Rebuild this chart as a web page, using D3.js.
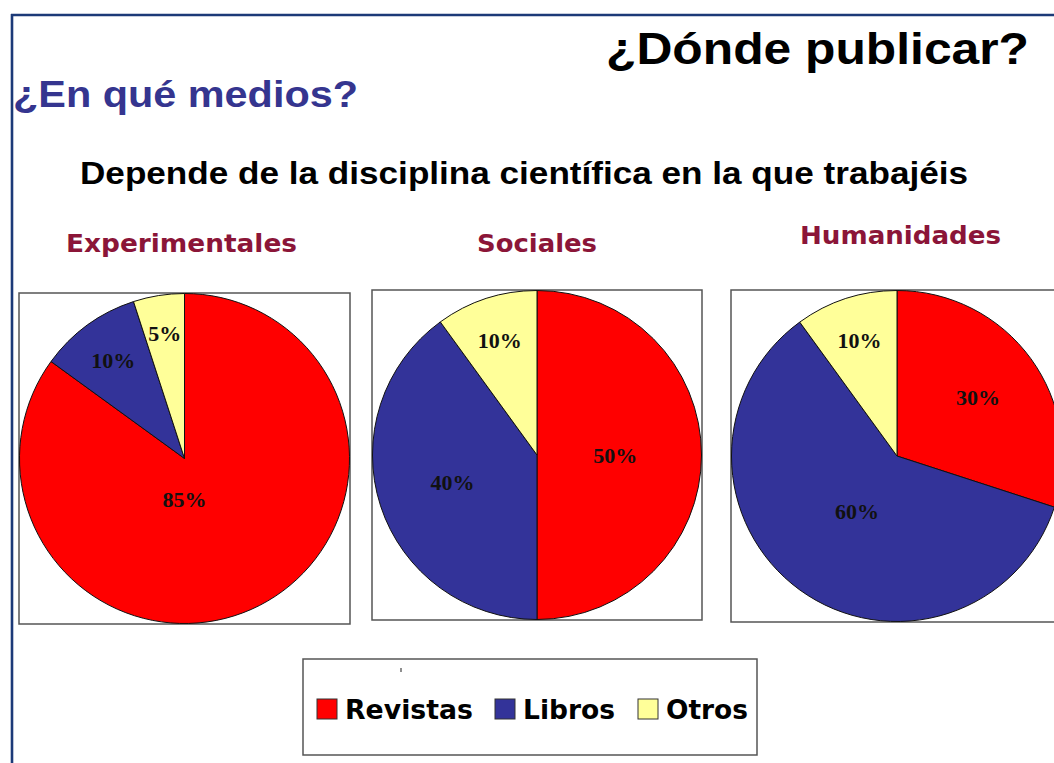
<!DOCTYPE html>
<html>
<head>
<meta charset="utf-8">
<script src="https://cdn.jsdelivr.net/npm/d3@7"></script>
<style>
  html, body { margin: 0; padding: 0; background: #fff; }
  svg { display: block; }
</style>
</head>
<body>
<svg id="chart" width="1054" height="763"></svg>
<script>
// ---- data ----
const title = "¿Dónde publicar?";
const subtitle = "¿En qué medios?";
const heading = "Depende de la disciplina científica en la que trabajéis";
const disciplines = ["Experimentales", "Sociales", "Humanidades"];
const categories = ["Revistas", "Libros", "Otros"];
const revistas = [85, 50, 30];
const libros = [10, 40, 60];
const otros = [5, 10, 10];
const colors = ["#ff0000", "#333399", "#ffff99"];

// ---- layout ----
const svg = d3.select("#chart");
const W = 1054, H = 763;

// frame
const frameColor = "#1c3a78";
svg.append("line").attr("x1", 11).attr("x2", W).attr("y1", 15).attr("y2", 15)
  .attr("stroke", frameColor).attr("stroke-width", 2.6);
svg.append("line").attr("x1", 12).attr("x2", 12).attr("y1", 14).attr("y2", H)
  .attr("stroke", frameColor).attr("stroke-width", 2.6);

// texts
svg.append("text").attr("x", 606).attr("y", 64)
  .attr("font-family", "Liberation Sans, Arial, sans-serif").attr("font-weight", "bold")
  .attr("font-size", 45).attr("fill", "#000")
  .attr("textLength", 423).attr("lengthAdjust", "spacingAndGlyphs")
  .text(title);

svg.append("text").attr("x", 13).attr("y", 107)
  .attr("font-family", "Liberation Sans, Arial, sans-serif").attr("font-weight", "bold")
  .attr("font-size", 37).attr("fill", "#35358f")
  .attr("textLength", 345).attr("lengthAdjust", "spacingAndGlyphs")
  .text(subtitle);

svg.append("text").attr("x", 80).attr("y", 184)
  .attr("font-family", "Liberation Sans, Arial, sans-serif").attr("font-weight", "bold")
  .attr("font-size", 31).attr("fill", "#000")
  .attr("textLength", 888).attr("lengthAdjust", "spacingAndGlyphs")
  .text(heading);

// panels
const panels = [
  { x0: 19, y0: 293, size: 331, titleX: 66, titleY: 252, titleW: 231 },
  { x0: 372, y0: 290, size: 330, titleX: 477, titleY: 252, titleW: 120 },
  { x0: 731, y0: 290, size: 332, titleX: 800, titleY: 244, titleW: 201 }
];

const pie = d3.pie().sort(null).value(d => d.value);

disciplines.forEach((name, i) => {
  const p = panels[i];
  const vals = [revistas[i], libros[i], otros[i]];
  const data = categories.map((c, k) => ({ cat: c, value: vals[k], color: colors[k] }));
  const R = p.size / 2 - 0.5;
  const cx = p.x0 + p.size / 2, cy = p.y0 + p.size / 2;

  svg.append("text").attr("x", p.titleX).attr("y", p.titleY)
    .attr("font-family", "DejaVu Sans, Verdana, sans-serif").attr("font-weight", "bold")
    .attr("font-size", 24).attr("fill", "#8b1538")
    .attr("textLength", p.titleW).attr("lengthAdjust", "spacingAndGlyphs")
    .text(name);

  svg.append("rect").attr("x", p.x0).attr("y", p.y0)
    .attr("width", p.size).attr("height", p.size)
    .attr("fill", "#fff").attr("stroke", "#555").attr("stroke-width", 1.5);

  const g = svg.append("g").attr("transform", `translate(${cx},${cy})`);
  const arc = d3.arc().innerRadius(0).outerRadius(R);
  const arcs = pie(data);
  g.selectAll("path").data(arcs).join("path")
    .attr("d", arc).attr("fill", d => d.data.color)
    .attr("stroke", "#111").attr("stroke-width", 1);

  const total = d3.sum(vals);
  g.selectAll("text.lbl").data(arcs).join("text").attr("class", "lbl")
    .attr("transform", d => {
      const share = d.data.value / total;
      const r = R * (0.8 - 0.65 * share);
      // large slices: pull label toward the bottom of the pie
      let a = (d.startAngle + d.endAngle) / 2;
      if (share > 0.75 && d.startAngle <= Math.PI && d.endAngle >= Math.PI) a = Math.PI;
      return `translate(${r * Math.sin(a)},${-r * Math.cos(a)})`;
    })
    .attr("text-anchor", "middle").attr("dy", "0.35em")
    .attr("font-family", "Liberation Serif, Times New Roman, serif").attr("font-weight", "bold")
    .attr("font-size", 22).attr("fill", "#111")
    .text(d => d.data.value + "%");
});

// legend
const lg = svg.append("g");
lg.append("rect").attr("x", 303).attr("y", 659).attr("width", 454).attr("height", 96)
  .attr("fill", "#fff").attr("stroke", "#555").attr("stroke-width", 1.5);
lg.append("line").attr("x1", 401).attr("x2", 401).attr("y1", 668).attr("y2", 672)
  .attr("stroke", "#444").attr("stroke-width", 1.2);
const legendX = [317, 495, 638];
const legendW = [128, 92, 82];
categories.forEach((c, k) => {
  lg.append("rect").attr("x", legendX[k]).attr("y", 699).attr("width", 20).attr("height", 20)
    .attr("fill", colors[k]).attr("stroke", "#333").attr("stroke-width", 1);
  lg.append("text").attr("x", legendX[k] + 28).attr("y", 719)
    .attr("font-family", "DejaVu Sans, Verdana, sans-serif").attr("font-weight", "bold")
    .attr("font-size", 27).attr("fill", "#000")
    .attr("textLength", legendW[k]).attr("lengthAdjust", "spacingAndGlyphs")
    .text(c);
});
</script>
</body>
</html>
